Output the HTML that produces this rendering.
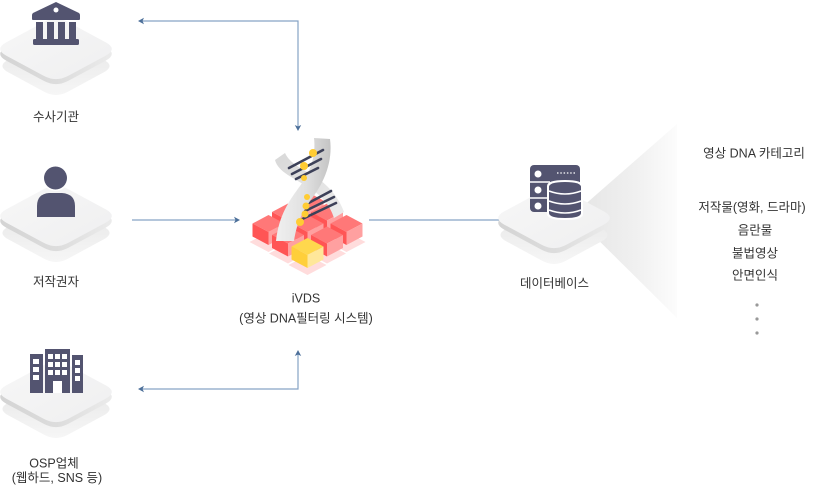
<!DOCTYPE html>
<html><head><meta charset="utf-8"><style>
html,body{margin:0;padding:0;background:#fff;}
svg{display:block;}
text{font-family:"Liberation Sans","Noto Sans CJK KR",sans-serif;font-size:12.5px;fill:#333;text-anchor:middle;}
</style></head><body>
<svg width="815" height="491" viewBox="0 0 815 491" xmlns="http://www.w3.org/2000/svg">
<defs>
  <linearGradient id="wedge" x1="0" y1="0" x2="1" y2="0">
    <stop offset="0" stop-color="#e4e4e4"/><stop offset="0.6" stop-color="#f0f0f0"/><stop offset="1" stop-color="#fcfcfc"/>
  </linearGradient>
  <linearGradient id="low" x1="0" y1="0" x2="0" y2="1">
    <stop offset="0" stop-color="#e6e6e6"/><stop offset="1" stop-color="#f6f6f6"/>
  </linearGradient>
  <linearGradient id="side" x1="0" y1="0" x2="1" y2="0">
    <stop offset="0" stop-color="#d4d4d4"/><stop offset="0.5" stop-color="#dcdcdc"/><stop offset="1" stop-color="#ebebeb"/>
  </linearGradient>
  <linearGradient id="topf" x1="0" y1="0" x2="1" y2="1">
    <stop offset="0" stop-color="#f7f7f7"/><stop offset="1" stop-color="#efeff0"/>
  </linearGradient>
  <linearGradient id="strand" x1="0" y1="0" x2="1" y2="0">
    <stop offset="0" stop-color="#f0f0f0"/><stop offset="0.55" stop-color="#e0e0e0"/><stop offset="1" stop-color="#c4c4c4"/>
  </linearGradient>
  <linearGradient id="strand2" x1="0" y1="0" x2="1" y2="1">
    <stop offset="0" stop-color="#d8d8d8"/><stop offset="1" stop-color="#ececec"/>
  </linearGradient>
  <path id="rh" d="M-49.6,-6.7 L-12.4,-26.8 Q0,-33.5 12.4,-26.8 L49.6,-6.7 Q62,0 49.6,6.7 L12.4,26.8 Q0,33.5 -12.4,26.8 L-49.6,6.7 Q-62,0 -49.6,-6.7 Z"/>
  <g id="plat">
    <use href="#rh" transform="translate(0,17) scale(0.96)" fill="url(#low)"/>
    <use href="#rh" transform="translate(0,5)" fill="url(#side)"/>
    <use href="#rh" fill="url(#topf)"/>
  </g>
  <g id="rc">
    <polygon points="0,0 16,8.5 0,17 -16,8.5" fill="#ff7878"/>
    <polygon points="-16,8.5 0,17 0,30 -16,21.5" fill="#ff5555"/>
    <polygon points="0,17 16,8.5 16,21.5 0,30" fill="#ffa0a0"/>
  </g>
  <polygon id="sh" points="0,17 19,27 0,37 -19,27" fill="#ffdcdc"/>
  <path id="ah" d="M0,0 L-6,-3.2 L-4.5,0 L-6,3.2 Z" fill="#4c6f99"/>
</defs>

<!-- wedge behind DB -->
<polygon points="573,215 677,124 677,318" fill="url(#wedge)"/>

<!-- connectors -->
<g stroke="#86a3c5" stroke-width="1.2" fill="none">
  <path d="M298,129 V21 H140"/>
  <path d="M132,220 H238"/>
  <path d="M369,220 H500"/>
  <path d="M298,353 V389 H140"/>
</g>
<use href="#ah" transform="translate(138,21) rotate(180)"/>
<use href="#ah" transform="translate(298,131) rotate(90)"/>
<use href="#ah" transform="translate(240,220)"/>
<use href="#ah" transform="translate(298,350) rotate(-90)"/>
<use href="#ah" transform="translate(138,389) rotate(180)"/>

<!-- platforms -->
<use href="#plat" transform="translate(56,49)"/>
<use href="#plat" transform="translate(56,216)"/>
<use href="#plat" transform="translate(56,392)"/>
<use href="#plat" transform="translate(554,218)"/>

<!-- bank icon -->
<g fill="#535470">
  <path d="M56,2 L79,13 Q80,14 80,15 V19 Q80,20 79,20 H33 Q32,20 32,19 V15 Q32,14 33,13 Z"/>
  <rect x="36" y="22" width="7" height="17"/>
  <rect x="47" y="22" width="7" height="17"/>
  <rect x="58" y="22" width="7" height="17"/>
  <rect x="69" y="22" width="7" height="17"/>
  <rect x="33" y="39" width="46" height="6" rx="1.5"/>
</g>
<circle cx="56" cy="10" r="2.5" fill="#fff"/>

<!-- person icon -->
<path d="M37,217 V206 Q37,194 49,193 H62 Q75,194 75,206 V217 Z" fill="#535470"/>
<circle cx="55.5" cy="178" r="13" fill="#fff"/>
<circle cx="55.5" cy="178" r="11.5" fill="#535470"/>

<!-- building icon -->
<g fill="#535470">
  <rect x="30" y="354" width="13" height="39"/>
  <rect x="45" y="349" width="25" height="44"/>
  <rect x="72" y="355" width="11" height="38"/>
</g>
<g fill="#fff">
  <rect x="33" y="359" width="6" height="5"/>
  <rect x="33" y="367" width="6" height="5"/>
  <rect x="33" y="375" width="6" height="5"/>
  <rect x="48" y="354" width="5" height="5"/>
  <rect x="55" y="354" width="5" height="5"/>
  <rect x="62" y="354" width="5" height="5"/>
  <rect x="48" y="362" width="5" height="5"/>
  <rect x="55" y="362" width="5" height="5"/>
  <rect x="62" y="362" width="5" height="5"/>
  <rect x="48" y="370" width="5" height="5"/>
  <rect x="55" y="370" width="5" height="5"/>
  <rect x="62" y="370" width="5" height="5"/>
  <rect x="53" y="381" width="9" height="12"/>
  <rect x="75" y="360" width="5" height="5"/>
  <rect x="75" y="368" width="5" height="5"/>
  <rect x="75" y="376" width="5" height="5"/>
</g>

<!-- DB icon -->
<rect x="530" y="165" width="50" height="47" rx="4" fill="#535470"/>
<g stroke="#fff" stroke-width="1.5">
  <line x1="530" y1="182" x2="550" y2="182"/>
  <line x1="530" y1="198" x2="550" y2="198"/>
</g>
<circle cx="538" cy="174" r="3.5" fill="#fff"/>
<circle cx="538" cy="190" r="3.5" fill="#fff"/>
<circle cx="538" cy="206" r="3.5" fill="#fff"/>
<line x1="557" y1="173" x2="576" y2="173" stroke="#fff" stroke-width="1.2" stroke-dasharray="1.5,1.8"/>
<g>
  <path d="M547,186 Q547,180 565,180 Q583,180 583,186 V214 Q583,220 565,220 Q547,220 547,214 Z" fill="#fff"/>
  <path d="M549,187 Q549,182 565,182 Q581,182 581,187 V213 Q581,218 565,218 Q549,218 549,213 Z" fill="#535470"/>
  <path d="M549,191 Q565,197 581,191" stroke="#fff" stroke-width="1.5" fill="none"/>
  <path d="M549,201 Q565,207 581,201" stroke="#fff" stroke-width="1.5" fill="none"/>
  <path d="M549,210 Q565,216 581,210" stroke="#fff" stroke-width="1.5" fill="none"/>
</g>

<!-- iVDS cubes -->
<g>
  <use href="#sh" transform="translate(307.5,192)"/>
  <use href="#sh" transform="translate(288,203.5)"/>
  <use href="#sh" transform="translate(327,203.5)"/>
  <use href="#sh" transform="translate(268.5,215)"/>
  <use href="#sh" transform="translate(307.5,215)"/>
  <use href="#sh" transform="translate(346.5,215)"/>
  <use href="#sh" transform="translate(288,226.5)"/>
  <use href="#sh" transform="translate(327,226.5)"/>
  <use href="#sh" transform="translate(307.5,238)"/>
</g>
<use href="#rc" transform="translate(307.5,192)"/>
<use href="#rc" transform="translate(288,203.5)"/>
<use href="#rc" transform="translate(327,203.5)"/>
<use href="#rc" transform="translate(268.5,215)"/>
<use href="#rc" transform="translate(307.5,215)"/>
<use href="#rc" transform="translate(346.5,215)"/>
<use href="#rc" transform="translate(288,226.5)"/>
<use href="#rc" transform="translate(327,226.5)"/>
<g transform="translate(307.5,238)">
  <polygon points="0,0 16,8.5 0,17 -16,8.5" fill="#ffd84d"/>
  <polygon points="-16,8.5 0,17 0,30 -16,21.5" fill="#ffcf3a"/>
  <polygon points="0,17 16,8.5 16,21.5 0,30" fill="#ffe79a"/>
</g>

<!-- DNA back strand -->
<path d="M275,160 C278,172 294,178 308,187 C321,195 330,205 334,218 L344,212 C339,198 329,186 317,178 C303,169 290,164 285,153 Z" fill="url(#strand2)"/>
<!-- lower bars -->
<g stroke="#3d4159" stroke-width="2.6" stroke-linecap="round">
  <line x1="296" y1="222" x2="336" y2="203"/>
  <line x1="299" y1="214" x2="334" y2="197"/>
  <line x1="301" y1="207" x2="331" y2="191"/>
</g>
<!-- DNA front strand -->
<path d="M314,138 C316,155 311,171 300,186 C289,201 279,215 276,241 L294,241 C297,221 304,209 313,197 C324,182 333,162 330,139 Z" fill="url(#strand)"/>
<!-- upper bars -->
<g stroke="#3d4159" stroke-width="2.6" stroke-linecap="round">
  <line x1="289" y1="168" x2="323" y2="150"/>
  <line x1="292" y1="174" x2="321" y2="159"/>
  <line x1="296" y1="179" x2="318" y2="168"/>
</g>
<g fill="#ffcc33">
  <circle cx="313" cy="153" r="4"/>
  <circle cx="304" cy="166" r="4"/>
  <circle cx="304" cy="178" r="3"/>
  <circle cx="307" cy="197" r="3"/>
  <circle cx="306" cy="206" r="3.5"/>
  <circle cx="305" cy="214" r="3.5"/>
  <circle cx="300" cy="222" r="4"/>
</g>

<!-- labels -->
<text x="56" y="121">수사기관</text>
<text x="56" y="286">저작권자</text>
<text x="54" y="467.5">OSP업체</text>
<text x="57" y="482">(웹하드, SNS 등)</text>
<text x="306" y="302.5">iVDS</text>
<text x="306" y="322.5">(영상 DNA필터링 시스템)</text>
<text x="554.5" y="287.5">데이터베이스</text>

<text x="754" y="157.5">영상 DNA 카테고리</text>
<text x="752" y="211.5">저작물(영화, 드라마)</text>
<text x="755" y="234.5">음란물</text>
<text x="755" y="257.5">불법영상</text>
<text x="755" y="279.5">안면인식</text>
<g fill="#999">
  <circle cx="757" cy="305" r="1.6"/>
  <circle cx="757" cy="319" r="1.6"/>
  <circle cx="757" cy="333" r="1.6"/>
</g>
</svg>
</body></html>
